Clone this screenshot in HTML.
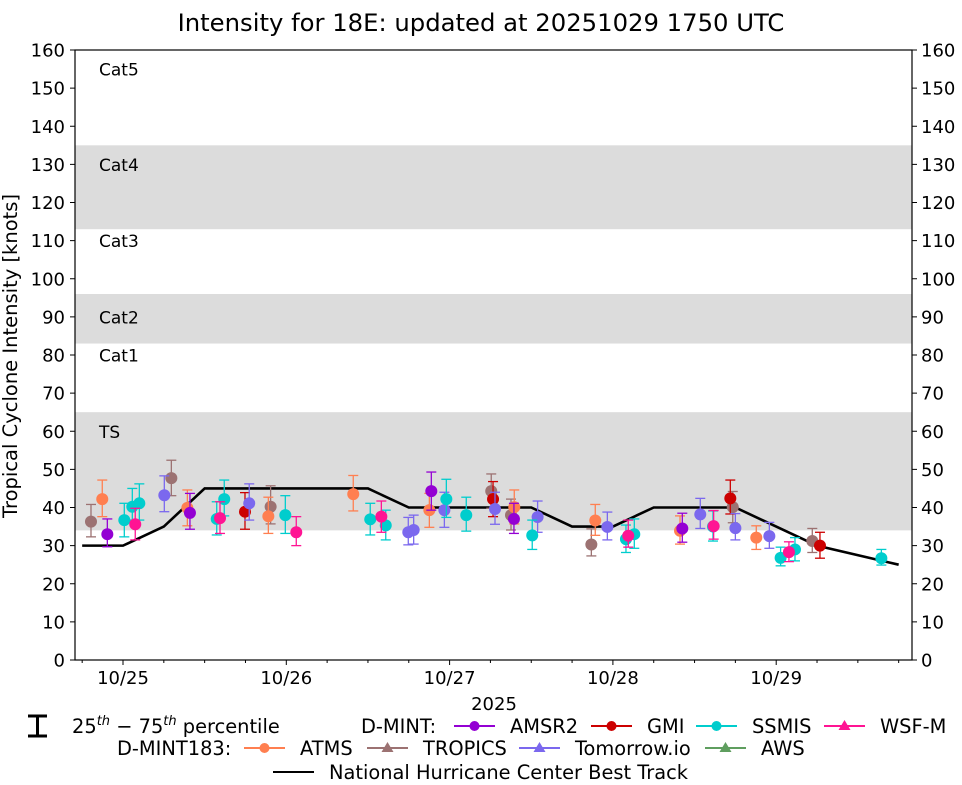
<!DOCTYPE html>
<html><head><meta charset="utf-8"><style>
body{margin:0;background:#fff;}
svg{display:block;font-family:"DejaVu Sans","Liberation Sans",sans-serif;}
</style></head><body>
<svg id="chart" width="962" height="785" viewBox="0 0 962 785">
<g id="bands"></g>
<g id="labels"></g>
<g id="axes"></g>
<g id="track"></g>
<g id="marks"></g>
<g id="legend"></g>
</svg>
<script>
// ---- data ----
const trackDays = [-0.25,0,0.25,0.5,0.75,1,1.25,1.5,1.75,2,2.25,2.5,2.75,3,3.25,3.5,3.75,4,4.25,4.75];
const trackVals = [30,30,35,45,45,45,45,45,40,40,40,40,35,35,40,40,40,35,30,25];

const tropicsT = [-0.196,0.296,0.904,2.255,2.376,2.868,3.734,4.221];
const tropicsV = [36.3,47.7,40.2,44.3,38.0,30.3,40.1,31.2];
const tropicsLo = [32.3,43.1,35.7,39.8,34.1,27.3,36.0,28.2];
const tropicsHi = [40.8,52.4,45.7,48.8,42.2,34.4,44.2,34.5];

const atmsT = [-0.127,0.394,0.890,1.410,1.876,2.396,2.892,3.411,3.878];
const atmsV = [42.2,39.9,37.7,43.5,39.3,40.1,36.6,33.9,32.1];
const atmsLo = [37.6,35.2,33.2,39.1,34.8,35.7,32.7,30.4,29.0];
const atmsHi = [47.2,44.6,42.7,48.4,43.7,44.6,40.8,37.8,35.2];

const amsr2T = [-0.096,0.410,1.888,2.394,3.425];
const amsr2V = [33.0,38.6,44.3,37.0,34.5];
const amsr2Lo = [29.7,34.3,39.3,33.2,30.9];
const amsr2Hi = [37.0,43.7,49.3,41.1,38.5];

const gmiT = [0.747,2.266,3.719,4.268];
const gmiV = [38.9,42.2,42.4,30.0];
const gmiLo = [34.3,37.6,38.3,26.7];
const gmiHi = [43.9,46.8,47.2,33.5];

const ssmisT = [0.008,0.057,0.100,0.574,0.620,0.994,1.514,1.609,1.980,2.102,2.506,3.080,3.131,3.613,4.027,4.115,4.644];
const ssmisV = [36.7,40.2,41.1,37.0,42.2,38.0,36.9,35.3,42.2,38.0,32.7,31.7,33.0,35.0,26.8,29.0,26.7];
const ssmisLo = [32.3,36.7,36.7,32.8,37.8,33.2,32.8,31.5,37.4,33.8,29.0,28.2,29.3,31.2,24.7,26.0,24.9];
const ssmisHi = [41.1,45.0,46.2,41.5,47.2,43.1,41.1,39.3,47.4,42.7,36.7,35.4,37.0,39.1,29.6,32.1,29.0];

const tmrwT = [0.253,0.773,1.747,1.780,1.968,2.278,2.539,2.966,3.535,3.750,3.958];
const tmrwV = [43.2,41.1,33.5,34.1,39.3,39.6,37.5,34.9,38.2,34.6,32.5];
const tmrwLo = [38.9,36.7,30.2,30.4,34.8,35.6,33.5,31.5,34.5,31.5,29.3];
const tmrwHi = [48.3,46.2,37.4,38.0,44.0,44.0,41.7,38.8,42.4,38.4,36.1];

const wsfT = [0.075,0.594,1.061,1.582,3.094,3.617,4.078];
const wsfV = [35.6,37.2,33.5,37.6,32.6,35.1,28.3];
const wsfLo = [31.5,33.2,30.0,33.5,29.6,31.7,25.8];
const wsfHi = [39.8,41.5,37.6,41.7,36.7,39.2,31.0];

const yTicks = [0,10,20,30,40,50,60,70,80,90,100,110,120,130,140,150,160];
const xTickDays = [0,1,2,3,4];
const xTickLabels = ["10/25","10/26","10/27","10/28","10/29"];
const bandLo = [113,83,34];
const bandHi = [135,96,65];
const catNames = ["Cat5","Cat4","Cat3","Cat2","Cat1","TS"];
const catVals = [155,130,110,90,80,60];

// ---- layout ----
const L=75,R=912,T=50,B=660;
const X=d=>123+d*163.3;
const Y=v=>B-v*(B-T)/160;
const NS="http://www.w3.org/2000/svg";
function mk(tag,attrs,parent,text){const e=document.createElementNS(NS,tag);for(const k in attrs)e.setAttribute(k,attrs[k]);if(text!==undefined)e.textContent=text;parent.appendChild(e);return e;}
const bands=document.getElementById('bands'),labels=document.getElementById('labels'),axes=document.getElementById('axes'),track=document.getElementById('track'),marks=document.getElementById('marks'),legend=document.getElementById('legend');

for(let i=0;i<bandLo.length;i++){
  const r=mk('rect',{x:L,y:Y(bandHi[i]),width:R-L,height:Y(bandLo[i])-Y(bandHi[i]),fill:'#dcdcdc'},bands);
  
  
}
for(let i=0;i<catNames.length;i++){
  const t=mk('text',{x:99,y:Y(catVals[i])+6.5,'font-size':17},labels,catNames[i]);
  
  
}
const fr=mk('rect',{x:L,y:T,width:R-L,height:B-T,fill:'none',stroke:'#000','stroke-width':1.2},axes);


yTicks.forEach(v=>{
  const y=Y(v);
  mk('line',{x1:L-5,x2:L,y1:y,y2:y,stroke:'#000'},axes);
  mk('line',{x1:R,x2:R+5,y1:y,y2:y,stroke:'#000'},axes);
  const a=mk('text',{x:L-10,y:y+6.5,'font-size':18,'text-anchor':'end'},axes,String(v));
  
  
  const b=mk('text',{x:R+9,y:y+6.5,'font-size':18},axes,String(v));
  
  
});
xTickDays.forEach((d,i)=>{
  const x=X(d);
  mk('line',{x1:x,x2:x,y1:B,y2:B+5,stroke:'#000'},axes);
  const t=mk('text',{x:x,y:684,'font-size':18,'text-anchor':'middle'},axes,xTickLabels[i]);
  
  
});
for(let d=-0.25;d<4.9;d+=0.25){ if(Math.abs(d-Math.round(d))>0.01){const x=X(d);mk('line',{x1:x,x2:x,y1:B,y2:B+3,stroke:'#000'},axes);} }
let t=mk('text',{x:494,y:710,'font-size':18,'text-anchor':'middle'},axes,'2025');


t=mk('text',{x:0,y:0,'font-size':19.5,'text-anchor':'middle',transform:'translate(17,356) rotate(-90)'},axes,'Tropical Cyclone Intensity [knots]');


t=mk('text',{x:481,y:31,'font-size':24.3,'text-anchor':'middle'},axes,'Intensity for 18E: updated at 20251029 1750 UTC');



const tl=mk('polyline',{points:trackDays.map((d,i)=>X(d)+','+Y(trackVals[i])).join(' '),fill:'none',stroke:'#000','stroke-width':2.6},track);



function series(T,V,Lo,Hi,color,name){
  const g=mk('g',{},marks);
  
  
  for(let i=0;i<T.length;i++){
    const x=X(T[i]),y1=Y(Lo[i]),y2=Y(Hi[i]);
    mk('line',{x1:x,x2:x,y1:y1,y2:y2,stroke:color,'stroke-width':1.3},g);
    mk('line',{x1:x-5,x2:x+5,y1:y1,y2:y1,stroke:color,'stroke-width':1.3},g);
    mk('line',{x1:x-5,x2:x+5,y1:y2,y2:y2,stroke:color,'stroke-width':1.3},g);
    const c=mk('circle',{cx:x,cy:Y(V[i]),r:6,fill:color},g);
    
    
  }
}
series(tropicsT,tropicsV,tropicsLo,tropicsHi,'#9c7272','tropics');
series(atmsT,atmsV,atmsLo,atmsHi,'#ff7f50','atms');
series(amsr2T,amsr2V,amsr2Lo,amsr2Hi,'#9400d3','amsr2');
series(gmiT,gmiV,gmiLo,gmiHi,'#cc0000','gmi');
series(tmrwT,tmrwV,tmrwLo,tmrwHi,'#7b68ee','tomorrow-io');
series(ssmisT,ssmisV,ssmisLo,ssmisHi,'#00cdcd','ssmis');
series(wsfT,wsfV,wsfLo,wsfHi,'#ff1493','wsf-m');

function entry(x1,y,color,label,marker,name){
  const g=mk('g',{},legend);
  
  
  mk('line',{x1:x1,x2:x1+41,y1:y,y2:y,stroke:color,'stroke-width':2},g);
  if(marker==='c') mk('circle',{cx:x1+20.5,cy:y,r:5,fill:color},g);
  if(marker==='t') mk('polygon',{points:(x1+20.5)+','+(y-6)+' '+(x1+14.5)+','+(y+4)+' '+(x1+26.5)+','+(y+4),fill:color},g);
  mk('text',{x:x1+56,y:y+7,'font-size':19.4},g,label);
}
const eb=mk('g',{},legend);


mk('path',{d:'M28 716 H47 M37.5 716 V736 M28 736 H47',stroke:'#000','stroke-width':3,fill:'none'},eb);
const pt=mk('text',{x:72,y:733,'font-size':19.4},eb);
pt.innerHTML='25<tspan font-size="13" font-style="italic" dy="-8">th</tspan><tspan dy="8"> − 75</tspan><tspan font-size="13" font-style="italic" dy="-8">th</tspan><tspan dy="8"> percentile</tspan>';
t=mk('text',{x:361,y:733,'font-size':19.4},legend,'D-MINT:');


entry(454,726,'#9400d3','AMSR2','c','amsr2');
entry(591,726,'#cc0000','GMI','c','gmi');
entry(696,726,'#00cdcd','SSMIS','c','ssmis');
entry(824,726,'#ff1493','WSF-M','t','wsf-m');
t=mk('text',{x:117,y:755,'font-size':19.4},legend,'D-MINT183:');


entry(244,748,'#ff7f50','ATMS','c','atms');
entry(367,748,'#9c7272','TROPICS','t','tropics');
entry(519,748,'#7b68ee','Tomorrow.io','t','tomorrow-io');
entry(705,748,'#5f9e5f','AWS','t','aws');
entry(273,772,'#000','National Hurricane Center Best Track','','best-track');
</script>
</body></html>
